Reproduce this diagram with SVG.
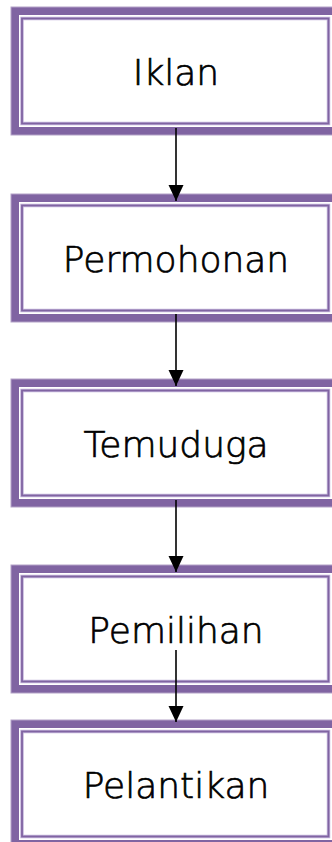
<svg xmlns="http://www.w3.org/2000/svg" width="332" height="842" viewBox="0 0 332 842">
  <style>
    .outer { fill: #8064A2; stroke: #B3A2C7; stroke-width: 1; }
    .gap { fill: #FFFFFF; }
    .halo { fill: none; stroke: #C3B4DA; stroke-width: 3.5; }
    .thin { fill: none; stroke: #8064A2; stroke-width: 1.8; }
    .label { font-family: "DejaVu Sans", "Liberation Sans", sans-serif; font-size: 36px; font-weight: 200; fill: #000000; stroke: #000000; stroke-width: 0.7; text-anchor: middle; }
    .conn { stroke: #000000; stroke-width: 1.6; fill: none; }
  </style>
  <defs>
    <marker id="arrow" markerUnits="userSpaceOnUse" markerWidth="16" markerHeight="17" viewBox="0 0 16 17" refX="16" refY="8" orient="auto">
      <path d="M0,0.5 L16,8 L0,15.5 Z" fill="#000000"/>
    </marker>
  </defs>
  <rect width="332" height="842" fill="#FFFFFF"/>

  <g id="node-iklan">
    <rect class="outer" x="11" y="7" width="330" height="128"/>
    <rect class="gap" x="19" y="15" width="320" height="112"/>
    <rect class="halo" x="22" y="18.5" width="306.5" height="105"/>
    <rect class="thin" x="22" y="18.5" width="306.5" height="105"/>
    <text class="label" x="176" y="85">Iklan</text>
  </g>

  <g id="node-permohonan">
    <rect class="outer" x="11" y="194" width="330" height="128"/>
    <rect class="gap" x="19" y="202" width="320" height="112"/>
    <rect class="halo" x="22" y="205.5" width="306.5" height="105"/>
    <rect class="thin" x="22" y="205.5" width="306.5" height="105"/>
    <text class="label" x="176" y="272">Permohonan</text>
  </g>

  <g id="node-temuduga">
    <rect class="outer" x="11" y="379" width="330" height="128"/>
    <rect class="gap" x="19" y="387" width="320" height="112"/>
    <rect class="halo" x="22" y="390.5" width="306.5" height="105"/>
    <rect class="thin" x="22" y="390.5" width="306.5" height="105"/>
    <text class="label" x="176" y="457">Temuduga</text>
  </g>

  <g id="node-pemilihan">
    <rect class="outer" x="11" y="565" width="330" height="128"/>
    <rect class="gap" x="19" y="573" width="320" height="112"/>
    <rect class="halo" x="22" y="576.5" width="306.5" height="105"/>
    <rect class="thin" x="22" y="576.5" width="306.5" height="105"/>
    <text class="label" x="176" y="643">Pemilihan</text>
  </g>

  <g id="node-pelantikan">
    <rect class="outer" x="11" y="720" width="330" height="128"/>
    <rect class="gap" x="19" y="728" width="320" height="112"/>
    <rect class="halo" x="22" y="731.5" width="306.5" height="105"/>
    <rect class="thin" x="22" y="731.5" width="306.5" height="105"/>
    <text class="label" x="176" y="798">Pelantikan</text>
  </g>

  <g id="connectors">
    <line class="conn" x1="176" y1="128" x2="176" y2="201" marker-end="url(#arrow)"/>
    <line class="conn" x1="176" y1="314" x2="176" y2="386" marker-end="url(#arrow)"/>
    <line class="conn" x1="176" y1="500" x2="176" y2="572" marker-end="url(#arrow)"/>
    <line class="conn" x1="176" y1="650" x2="176" y2="722" marker-end="url(#arrow)"/>
  </g>
</svg>
